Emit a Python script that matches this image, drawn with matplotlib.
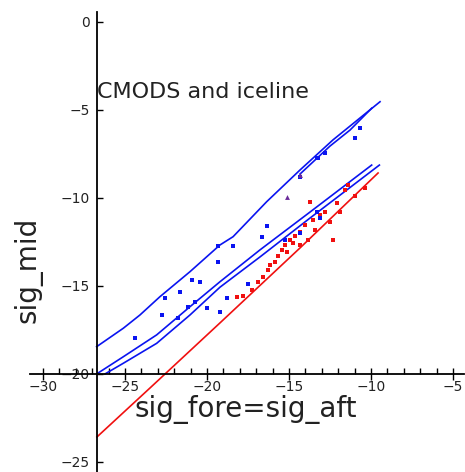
import matplotlib
matplotlib.use('Agg')
import matplotlib.pyplot as plt
from matplotlib.ticker import FixedLocator

# model curves (sig_fore=sig_aft vs sig_mid)
upper_x = [-26.73, -25.10, -24.09, -22.87, -21.04, -19.21, -18.41, -16.36, -14.33, -12.32, -9.45]
upper_y = [-18.45, -17.40, -16.65, -15.61, -14.19, -12.67, -12.20, -10.21, -8.41, -6.70, -4.53]
upper2_x = [-14.33, -12.50, -11.28, -9.96]
upper2_y = [-8.64, -7.05, -6.14, -4.90]
mid1_x = [-26.73, -25.10, -23.07, -21.04, -19.21, -16.77, -13.72, -9.96]
mid1_y = [-20.00, -19.02, -17.78, -16.18, -14.76, -12.95, -10.80, -8.13]
mid2_x = [-26.22, -25.10, -23.07, -21.04, -19.21, -16.77, -13.72, -9.49]
mid2_y = [-20.00, -19.39, -18.26, -16.65, -15.07, -13.35, -11.14, -8.13]
ice_x = [-26.71, -23.48, -19.21, -14.33, -9.57]
ice_y = [-23.58, -20.80, -17.10, -12.84, -8.58]

# observations
blue_x = [-19.33, -18.41, -20.93, -20.43, -19.33, -21.65, -22.76, -24.39, -22.56, -18.80,
          -19.21, -20.02, -20.73, -21.16, -21.77, -13.31, -16.36, -16.66, -13.31, -17.48,
          -10.67, -10.98, -12.80, -13.23, -14.33, -13.11, -14.33, -15.24]
blue_y = [-12.71, -12.71, -14.66, -14.76, -13.64, -15.32, -16.65, -17.97, -15.68, -15.68,
          -16.46, -16.25, -15.89, -16.18, -16.82, -7.74, -11.59, -12.20, -10.78, -14.89,
          -6.04, -6.61, -7.46, -7.74, -8.79, -11.15, -12.01, -12.39]
purple_x = [-14.33, -15.14]
purple_y = [-8.69, -9.93]
red_x = [-11.38, -11.59, -13.72, -12.09, -12.30, -13.52, -13.11, -12.80, -14.02, -14.33,
         -14.63, -14.74, -14.94, -15.24, -15.43, -15.12, -15.67, -15.85, -16.16, -16.28,
         -16.59, -16.89, -17.27, -17.80, -18.19, -14.33, -13.84, -13.41, -12.50, -11.89,
         -10.98, -10.37]
red_y = [-9.26, -9.55, -10.21, -10.30, -12.39, -11.25, -10.97, -10.80, -11.53, -11.93,
         -12.16, -12.57, -12.39, -12.67, -12.95, -13.07, -13.30, -13.64, -13.81, -14.09,
         -14.49, -14.77, -15.23, -15.57, -15.61, -12.67, -12.39, -11.82, -11.36, -10.80,
         -9.89, -9.43]
x_minor = list(range(-30, -4))

fig = plt.figure(figsize=(4.65, 4.72), dpi=100)
ax = fig.add_axes([0, 0, 1, 1])
ax.set_xlim(-32.62, -4.27)
ax.set_ylim(-25.57, 1.25)

blue = '#0a14f0'
red = '#f01010'
for xs, ys in [(upper_x, upper_y), (upper2_x, upper2_y), (mid1_x, mid1_y), (mid2_x, mid2_y)]:
    ax.plot(xs, ys, color=blue, lw=1.2)
ax.plot(ice_x, ice_y, color=red, lw=1.2)
ax.plot(red_x, red_y, 's', color=red, ms=2.6, mew=0)
ax.plot(blue_x, blue_y, 's', color=blue, ms=3.2, mew=0)
ax.plot(purple_x, purple_y, '^', color='#6a2a9a', ms=3.5, mew=0)

# axes cross inside the plot like the old plotting package
for s in ['top', 'right']:
    ax.spines[s].set_visible(False)
ax.spines['left'].set_position(('data', -26.7))
ax.spines['left'].set_bounds(-25.57, 0.57)
ax.spines['bottom'].set_position(('data', -20))
ax.spines['bottom'].set_bounds(-30.8, -4.35)
ax.spines['left'].set_linewidth(1.3)
ax.spines['bottom'].set_linewidth(1.3)

ax.set_xticks([-30, -25, -20, -15, -10, -5])
ax.xaxis.set_minor_locator(FixedLocator(x_minor))
ax.set_yticks([0, -5, -10, -15, -20, -25])
ax.tick_params(axis='x', which='major', direction='inout', length=8, width=1, pad=0, labelsize=10)
ax.tick_params(axis='x', which='minor', direction='in', length=4, width=1)
ax.tick_params(axis='y', which='major', direction='in', length=4, width=1, pad=5, labelsize=10)
for lab in ax.get_xticklabels() + ax.get_yticklabels():
    lab.set_color('#222222')

ax.text(-26.7, -4.0, 'CMODS and iceline', fontsize=16, color='#222222', va='center', ha='left')
fig.text(246 / 465, 1 - 410 / 472, 'sig_fore=sig_aft', fontsize=20, color='#222222',
         ha='center', va='center')
fig.text(28 / 465, 1 - 270 / 472, 'sig_mid', fontsize=20, color='#222222',
         ha='center', va='center', rotation=90)

plt.savefig('out.png', dpi=100)
plt.close()
